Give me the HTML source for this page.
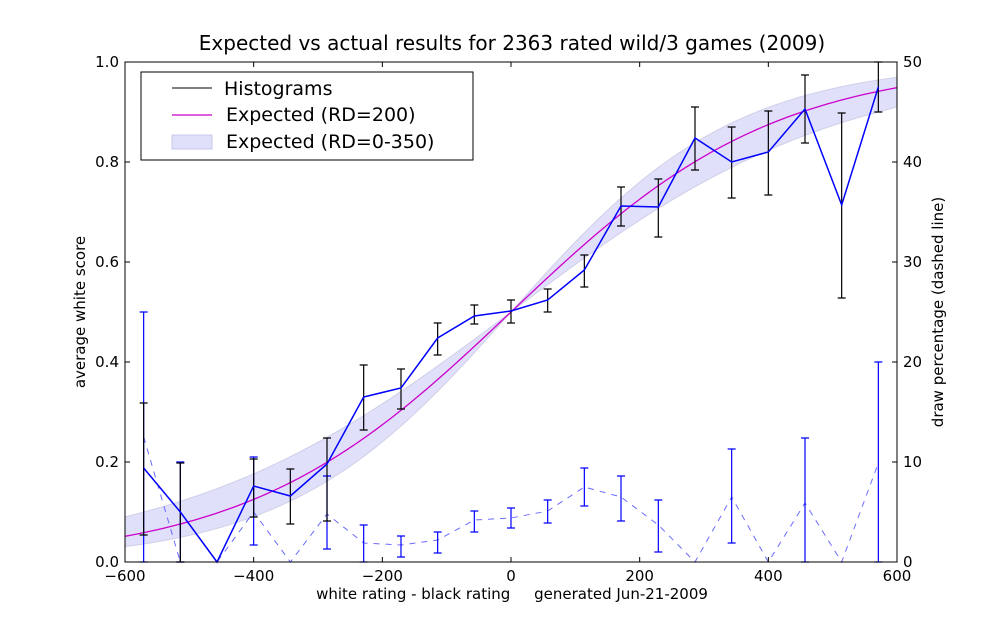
<!DOCTYPE html>
<html><head><meta charset="utf-8"><style>
body{margin:0;background:#fff;}
svg{display:block;font-family:"DejaVu Sans","Liberation Sans",sans-serif;}
</style></head><body>
<svg id="c" width="1000" height="625">
<rect width="1000" height="625" fill="#fff"/>
<text x="512" y="50" font-size="20" text-anchor="middle">Expected vs actual results for 2363 rated wild/3 games (2009)</text>
<g id="plot"></g>
<text x="512" y="599" font-size="15" text-anchor="middle" style="white-space:pre" xml:space="preserve">white rating - black rating     generated Jun-21-2009</text>
<text transform="translate(85,312) rotate(-90)" font-size="15" text-anchor="middle">average white score</text>
<text transform="translate(943,312) rotate(-90)" font-size="15" text-anchor="middle">draw percentage (dashed line)</text>
<g>
<rect x="141" y="72" width="332" height="88" fill="#fff" stroke="#000" stroke-width="1"/>
<line x1="172" y1="88" x2="212" y2="88" stroke="#000" stroke-width="1"/>
<text x="224" y="95" font-size="19">Histograms</text>
<line x1="172" y1="115" x2="212" y2="115" stroke="#c0c" stroke-width="1.3"/>
<text x="226" y="121" font-size="19">Expected (RD=200)</text>
<rect x="172" y="135" width="40" height="14" fill="#e0e0fb" stroke="#c8c8ee"/>
<text x="226" y="148" font-size="19">Expected (RD=0-350)</text>
</g>
</svg>
<script>
const centers=[-571,-514,-457,-400,-343,-286,-229,-171,-114,-57,0,57,114,171,229,286,343,400,457,514,571];
const scores=[0.188,0.1,0,0.152,0.132,0.196,0.33,0.348,0.448,0.492,0.502,0.524,0.584,0.712,0.71,0.848,0.8,0.82,0.906,0.714,0.95];
const scoreLo=[0.054,0,0,0.09,0.076,0.082,0.264,0.306,0.414,0.476,0.478,0.5,0.55,0.672,0.65,0.784,0.728,0.734,0.838,0.528,0.9];
const scoreHi=[0.318,0.198,0,0.206,0.186,0.248,0.394,0.386,0.478,0.514,0.524,0.546,0.614,0.75,0.766,0.91,0.87,0.902,0.974,0.898,1.0];
const draws=[12.5,0,0,5,0,4.8,1.9,1.7,2.2,4.2,4.4,5.1,7.5,6.5,3.7,0,6.5,0,5.9,0,9.9];
const drawLo=[0,0,0,1.7,0,1.3,0,0.5,0.9,3,3.4,3.9,5.6,4.1,1,0,1.9,0,0,0,0];
const drawHi=[25,10,0,10.5,0,8.6,3.7,2.6,3,5.1,5.4,6.2,9.4,8.6,6.2,0,11.3,0,12.4,0,20];
const xTicks=[-600,-400,-200,0,200,400,600];
const yTicks=[0,0.2,0.4,0.6,0.8,1.0];
const rTicks=[0,10,20,30,40,50];
const X0=125,X1=897,Y0=562,Y1=62;
const sx=v=>X0+(v+600)/1200*(X1-X0);
const sy=v=>Y0-v*(Y0-Y1);
const sr=v=>Y0-v/50*(Y0-Y1);
const g=document.getElementById('plot');
const NS='http://www.w3.org/2000/svg';
function mk(t,a){const e=document.createElementNS(NS,t);for(const k in a)e.setAttribute(k,a[k]);g.appendChild(e);return e;}
function gf(rd){const q=Math.LN10/400;return 1/Math.sqrt(1+3*q*q*rd*rd/(Math.PI*Math.PI));}
function E(d,rd){return 1/(1+Math.pow(10,-gf(rd)*d/400));}
let up=[],lo=[];
for(let d=-600;d<=600;d+=10){const a=E(d,0),b=E(d,350);up.push(sx(d)+','+sy(Math.max(a,b)));lo.push(sx(d)+','+sy(Math.min(a,b)));}
let band=mk('polygon',{points:up.concat(lo.reverse()).join(' '),fill:'#e0e0fb',stroke:'#cfcfe8','stroke-width':1});


let ep=[];for(let d=-600;d<=600;d+=10)ep.push(sx(d)+','+sy(E(d,200)));
let ec=mk('polyline',{points:ep.join(' '),fill:'none',stroke:'#c0c','stroke-width':1.3});


let dl=mk('polyline',{points:centers.map((c,i)=>sx(c)+','+sr(draws[i])).join(' '),fill:'none',stroke:'#6a6aff','stroke-width':1,'stroke-dasharray':'6,6'});


function ebar(x,y1,y2,col,name){if(Math.abs(y1-y2)<0.5)return;const e=mk('path',{d:`M${x},${y1}V${y2}M${x-4},${y1}H${x+4}M${x-4},${y2}H${x+4}`,stroke:col,'stroke-width':1.2,fill:'none'});

}
centers.forEach((c,i)=>{ebar(sx(c),sr(drawLo[i]),sr(drawHi[i]),'#00f','draw-error-bar');ebar(sx(c),sy(scoreLo[i]),sy(scoreHi[i]),'#000','score-error-bar');});
let sl=mk('polyline',{points:centers.map((c,i)=>sx(c)+','+sy(scores[i])).join(' '),fill:'none',stroke:'#00f','stroke-width':1.5});


let fr=mk('rect',{x:X0,y:Y1,width:X1-X0,height:Y0-Y1,fill:'none',stroke:'#000','stroke-width':1});


xTicks.forEach(t=>{const x=sx(t);mk('path',{d:`M${x},${Y0}v-5M${x},${Y1}v5`,stroke:'#000'});
const tx=mk('text',{x:x,y:Y0+19,'font-size':15,'text-anchor':'middle'});tx.textContent=(t<0?'\u2212'+(-t):t);

});
yTicks.forEach(t=>{const y=sy(t);mk('path',{d:`M${X0},${y}h5`,stroke:'#000'});
const tx=mk('text',{x:X0-6,y:y+5,'font-size':15,'text-anchor':'end'});tx.textContent=t.toFixed(1);

});
rTicks.forEach(t=>{const y=sr(t);mk('path',{d:`M${X1},${y}h-5`,stroke:'#000'});
const tx=mk('text',{x:X1+6,y:y+5,'font-size':15});tx.textContent=t;

});
</script>
</body></html>
